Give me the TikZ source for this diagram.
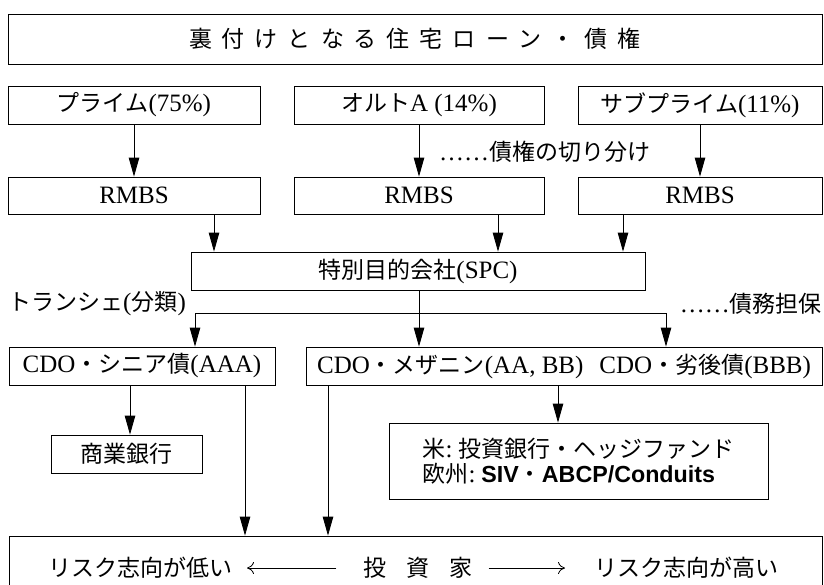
\documentclass[tikz,border=0pt]{standalone}
\usepackage{fontspec}
\setmainfont{Liberation Serif}
\newfontfamily\jp[Scale=0.92]{Noto Sans CJK JP}
\newfontfamily\asans[Scale=0.93]{Liberation Sans}
\newcommand\jpt[1]{{\jp #1}}
\newcommand\gp{\hspace{10pt}}
\usetikzlibrary{arrows.meta}
\tikzset{
 box/.style={draw, line width=0.8pt, inner sep=0pt, font=\fontsize{25}{27}\selectfont},
 lbl/.style={inner sep=0pt, font=\fontsize{25}{27}\selectfont},
 arr/.style={line width=0.8pt, -{Triangle[length=19pt,width=10.5pt]}},
 ln/.style={line width=0.8pt},
 cmarr/.style={line width=0.8pt, -{Computer Modern Rightarrow[length=7pt,width=12pt]}}
}
\begin{document}
\begin{tikzpicture}[x=1pt,y=-1pt]
\fill[white] (0,0) rectangle (824,584);
\useasboundingbox (0,0) rectangle (824,584);
\begin{scope}
\clip (0,0) rectangle (824,584);
% top
\node[box, minimum width=814pt, minimum height=50pt] (top) at (415,39)
 {\jpt{裏\gp 付\gp け\gp と\gp な\gp る\gp 住\gp 宅\gp ロ\gp ー\gp ン\gp ・\gp 債\gp 権}};
% row 2
\node[box, minimum width=252pt, minimum height=38pt] (prime) at (134,105) {\jpt{プライム}(75\%)};
\node[box, minimum width=250pt, minimum height=38pt] (alta) at (419,105) {\jpt{オルト}A (14\%)};
\node[box, minimum width=244pt, minimum height=38pt] (sub) at (700,105) {\jpt{サブプライム}(11\%)};
% RMBS
\node[box, minimum width=252pt, minimum height=37pt] (r1) at (134,195.5) {RMBS};
\node[box, minimum width=250pt, minimum height=37pt] (r2) at (419,195.5) {RMBS};
\node[box, minimum width=244pt, minimum height=37pt] (r3) at (700,195.5) {RMBS};
\draw[arr] (prime) -- (r1);
\draw[arr] (alta) -- (r2);
\draw[arr] (sub) -- (r3);
\node[lbl, anchor=west] (cut) at (439,152) {……\jpt{債権の切り分け}};
% SPC
\node[box, minimum width=454pt, minimum height=38pt] (spc) at (418,271) {\jpt{特別目的会社}(SPC)};
\coordinate (a1) at ([xshift=80pt]r1.south);
\coordinate (a2) at ([xshift=79pt]r2.south);
\coordinate (a3) at ([xshift=-77pt]r3.south);
\draw[arr] (a1) -- (a1 |- spc.north);
\draw[arr] (a2) -- (a2 |- spc.north);
\draw[arr] (a3) -- (a3 |- spc.north);
% tranches
\node[box, minimum width=266pt, minimum height=38pt] (senior) at (142,366) {CDO\jpt{・シニア債}(AAA)};
\node[box, minimum width=516pt, minimum height=38pt] (mezz) at (564,366)
 {CDO\jpt{・メザニン}(AA, BB)\hspace{16pt}CDO\jpt{・劣後債}(BBB)};
\coordinate (sp) at (419,313);
\coordinate (sl) at (195,313);
\coordinate (sr) at (666,313);
\draw[ln] (sp |- spc.south) -- (sp);
\draw[ln] (sl) -- (sr);
\draw[arr] (sl) -- (sl |- senior.north);
\draw[arr] (sp) -- (sp |- mezz.north);
\draw[arr] (sr) -- (sr |- mezz.north);
\node[lbl, anchor=west] (tr) at (8,304) {\jpt{トランシェ}(\jpt{分類})};
\node[lbl, anchor=east] (ct) at (822,304) {……\jpt{債務担保}};
% holders
\node[box, minimum width=151pt, minimum height=38pt] (cbank) at (126.5,454) {\jpt{商業銀行}};
\node[box, minimum width=379pt, minimum height=76pt, align=left] (ibank) at (578.5,461)
 {\jpt{米}:\hspace{6pt}\jpt{投資銀行・ヘッジファンド}\\[-2pt]
  \jpt{欧州}:\hspace{6pt}{\asans\bfseries SIV}\jpt{・}{\asans\bfseries ABCP/Conduits}};
\node[box, minimum width=813pt, minimum height=64pt] (inv) at (415.5,568) {};
\coordinate (s1) at ([xshift=-12pt]senior.south);
\coordinate (s2) at ([xshift=103pt]senior.south);
\coordinate (m1) at ([xshift=-236pt]mezz.south);
\coordinate (m2) at ([xshift=-6pt]mezz.south);
\draw[arr] (s1) -- (s1 |- cbank.north);
\draw[arr] (s2) -- (s2 |- inv.north);
\draw[arr] (m1) -- (m1 |- inv.north);
\draw[arr] (m2) -- (m2 |- ibank.north);
% investor text
\node[lbl, anchor=east] (low) at (233,568) {\jpt{リスク志向が低い}};
\node[lbl] (who) at (418,568) {\jpt{投\hspace{20pt}資\hspace{20pt}家}};
\node[lbl, anchor=west] (high) at (594,568) {\jpt{リスク志向が高い}};
\draw[cmarr, shorten <=27pt, shorten >=14pt] (who.west) -- (low.east);
\draw[cmarr, shorten <=16pt, shorten >=29pt] (who.east) -- (high.west);
\end{scope}
\end{tikzpicture}
\end{document}
